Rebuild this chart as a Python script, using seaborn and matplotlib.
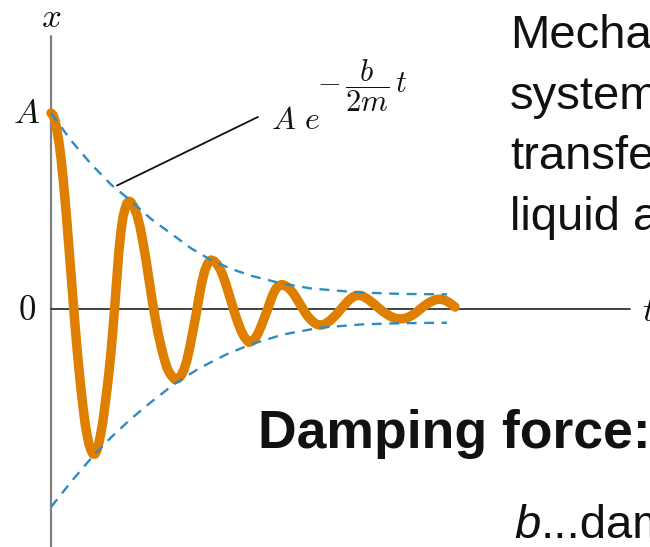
import matplotlib
matplotlib.use("Agg")
import matplotlib.pyplot as plt
import seaborn as sns
import pandas as pd

# damped oscillation (t in arbitrary units, x in % of A)
t_curve = [0, 2, 4, 6, 8, 10, 12, 14, 16, 18, 20, 22, 24, 26, 28, 30, 32, 34, 36, 38, 40, 42,
           44, 46, 48, 50, 52, 54, 56, 58, 60, 62, 64, 66, 68, 70, 72, 74, 76, 78,
           80, 83, 86, 89, 92, 95, 98, 101, 104, 107, 110, 113, 116, 119, 122, 124,
           127, 130, 133, 136, 139, 142, 145, 148, 151, 154, 157, 160,
           163, 166, 169, 172, 175, 178, 181, 184, 187, 190, 193, 196, 198,
           201, 204, 207, 210, 213, 216, 219, 222, 225, 228, 231,
           234, 237, 240, 243, 246, 249, 252, 255, 258, 261, 264, 267, 269,
           272, 275, 278, 281, 284, 287, 290, 293, 296, 299, 302, 305, 307,
           310, 313, 316, 319, 322, 325, 328, 331, 334, 337, 340, 343, 346, 349,
           352, 355, 358, 361, 364, 367, 370, 373, 376, 379, 382, 385, 387,
           390, 393, 396, 399, 402, 404]
x_curve = [100, 99, 96, 91, 85, 77, 67, 56, 44, 31, 18, 5, -8, -20, -31, -41, -50, -58, -64,
           -69, -72, -74, -74, -72, -68, -63, -57, -49, -41, -32, -22, -10, 3, 17, 30, 40,
           47, 51, 54, 55,
           54.5, 52, 48, 42, 34, 25, 15, 5, -4, -12, -19, -25, -30, -33, -35, -36,
           -35.5, -34, -31, -26, -19, -11, -3, 6, 14, 20, 23.5, 25,
           24.5, 23, 20.5, 17, 12.5, 7.5, 2.5, -2.5, -7, -11, -14, -16, -17,
           -16.5, -15, -12.5, -9, -5, -1, 3.5, 7.5, 10.5, 12, 12.5,
           12, 11, 9.5, 7.5, 5, 2.5, 0, -2.5, -4.5, -6, -7.3, -8, -8.2,
           -8, -7.3, -6.3, -5, -3.5, -1.8, 0, 1.8, 3.5, 5, 6.2, 6.9, 7,
           6.8, 6.2, 5.3, 4.2, 3, 1.7, 0.4, -0.9, -2, -3, -3.9, -4.5, -4.9, -5,
           -4.9, -4.6, -4, -3.2, -2.2, -1, 0.3, 1.5, 2.6, 3.5, 4.3, 4.8, 5,
           5, 4.6, 4, 3, 1.8, 1]

# envelope A e^(-bt/2m), upper and lower dashed lines
t_upper = [0, 20, 40, 60, 78, 100, 120, 140, 160, 180, 200, 231, 260, 307, 350, 396]
x_upper = [100, 86, 74, 63.5, 56, 46, 38.5, 31, 25, 20.5, 17, 13, 10.5, 8.5, 7.7, 7.5]
t_lower = [0, 22, 42, 60, 80, 100, 124, 149, 176, 200, 232, 269, 312, 352, 396]
x_lower = [-101, -87, -75, -65.5, -56, -47.5, -38, -30, -23, -18, -13, -9.5, -7.8, -7.2, -7]

text_lines = ["Mechanical", "system", "transferred", "liquid and"]

orange = "#DF7F00"
blue = "#2f8cc0"
ink = "#111111"

sns.set_theme(style="white")
plt.rcParams["font.family"] = ["Liberation Sans", "DejaVu Sans"]
plt.rcParams["mathtext.fontset"] = "cm"

fig = plt.figure(figsize=(6.5, 5.47), dpi=100)
ax = fig.add_axes([0, 0, 1, 1])
ax.set_xlim(-51, 599)
ax.set_ylim(-121.4, 157.65)
ax.axis("off")

# axes of the sketch
ax.axvline(0, ymin=0, ymax=0.934, color="#808080", lw=1.6)
ax.axhline(0, xmin=0.078, xmax=0.969, color="#222222", lw=1.2)

df = pd.DataFrame({"t": t_curve, "x": x_curve})
sns.lineplot(data=df, x="t", y="x", ax=ax, color=orange, lw=6.8, sort=False,
             estimator=None, solid_capstyle="round", solid_joinstyle="round", zorder=3)
sns.lineplot(x=t_upper, y=x_upper, ax=ax, color=blue, lw=1.7, estimator=None,
             linestyle=(0, (4.2, 3.2)), zorder=4)
sns.lineplot(x=t_lower, y=x_lower, ax=ax, color=blue, lw=1.7, estimator=None,
             linestyle=(0, (4.2, 3.2)), zorder=4)

# pointer to the envelope
ax.annotate("", xy=(66, 63), xytext=(207, 98),
            arrowprops=dict(arrowstyle="-", color=ink, lw=1.3, shrinkA=0, shrinkB=0))
ax.text(220, 92, r"$A\ e$", fontsize=23, ha="left", va="baseline", color=ink)
ax.text(311, 114, r"$-\,\dfrac{b}{2m}\,t$", fontsize=22, ha="center", va="center",
        color=ink)

ax.text(0, 148.5, r"$x$", fontsize=25, ha="center", va="center", color=ink)
ax.text(-24, 100, r"$A$", fontsize=25, ha="center", va="center", color=ink)
ax.text(-24, -1, r"$0$", fontsize=25, ha="center", va="center", color=ink)
ax.text(591, -1.5, r"$t$", fontsize=25, ha="left", va="center", color=ink)

# text on the right
for i, line in enumerate(text_lines):
    fig.text(510 / 650, 1 - (48 + 60.5 * i) / 547, line, fontsize=34,
             ha="left", va="baseline", color=ink)
fig.text(258 / 650, 1 - 448 / 547, "Damping force:", fontsize=38.5, fontweight="bold",
         ha="left", va="baseline", color=ink)
fig.text(514 / 650, 1 - 538 / 547, "b", fontsize=34, style="italic",
         ha="left", va="baseline", color=ink)
fig.text(541 / 650, 1 - 538 / 547, "...damping", fontsize=34,
         ha="left", va="baseline", color=ink)

fig.savefig("out.png", dpi=100)
